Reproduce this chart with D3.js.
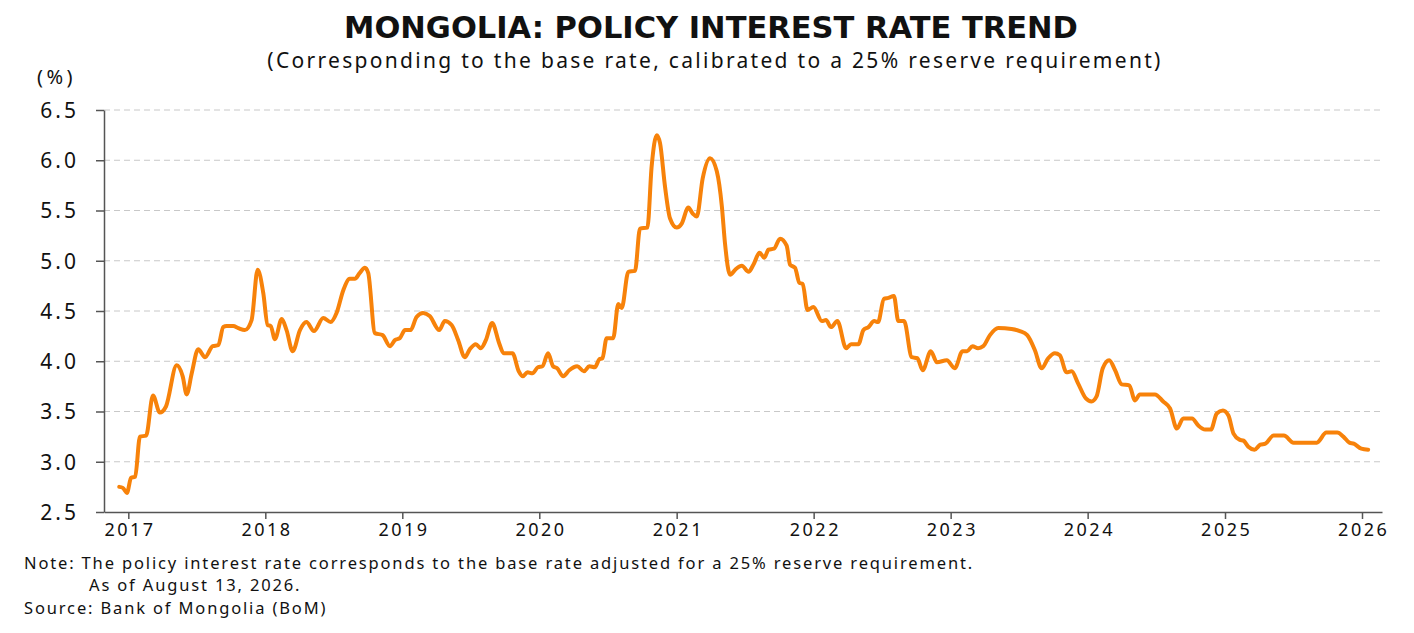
<!doctype html>
<html lang="en">
<head>
  <meta charset="UTF-8" />
  <title>Mongolia: Policy Interest Rate Trend</title>
  <script src="https://cdn.jsdelivr.net/npm/d3@7"></script>
  <style>
    body { margin: 0; background: #fff; }
    text { font-family: "Noto Sans", "Open Sans", sans-serif; fill: #111; }
    .grid line { stroke: #c8c8c8; stroke-dasharray: 6 4; stroke-width: 1; }
    .axis path, .axis line { stroke: #555; stroke-width: 1.5; }
    .rate { fill: none; stroke: #f7820a; stroke-width: 4; stroke-linejoin: round; stroke-linecap: round; }
  </style>
</head>
<body>
  <script>
    // dates as decimal years, values in %
    var years = [
      2016.934, 2016.96, 2016.99, 2017.02, 2017.05, 2017.085, 2017.13, 2017.18, 2017.23, 2017.275,
      2017.353, 2017.397, 2017.426, 2017.463, 2017.51, 2017.56, 2017.616, 2017.657, 2017.693, 2017.718,
      2017.766, 2017.803, 2017.85, 2017.9, 2017.944, 2017.985, 2018.017, 2018.04, 2018.07, 2018.12,
      2018.155, 2018.2, 2018.253, 2018.3, 2018.355, 2018.423, 2018.477, 2018.52, 2018.57, 2018.617,
      2018.654, 2018.69, 2018.727, 2018.751, 2018.8, 2018.856, 2018.91, 2018.946, 2018.982, 2019.02,
      2019.06, 2019.104, 2019.152, 2019.2, 2019.27, 2019.31, 2019.36, 2019.408, 2019.456, 2019.493,
      2019.537, 2019.573, 2019.61, 2019.656, 2019.707, 2019.74, 2019.804, 2019.85, 2019.88, 2019.914,
      2019.95, 2019.99, 2020.023, 2020.064, 2020.1, 2020.13, 2020.174, 2020.218, 2020.276, 2020.325,
      2020.364, 2020.405, 2020.437, 2020.46, 2020.49, 2020.538, 2020.575, 2020.6, 2020.648, 2020.697,
      2020.733, 2020.787, 2020.818, 2020.855, 2020.879, 2020.915, 2020.952, 2021.0, 2021.037, 2021.085,
      2021.117, 2021.147, 2021.19, 2021.244, 2021.293, 2021.33, 2021.353, 2021.39, 2021.434, 2021.476,
      2021.525, 2021.56, 2021.605, 2021.64, 2021.67, 2021.71, 2021.755, 2021.803, 2021.828, 2021.864,
      2021.896, 2021.92, 2021.955, 2021.998, 2022.06, 2022.09, 2022.127, 2022.173, 2022.237, 2022.273,
      2022.327, 2022.363, 2022.4, 2022.442, 2022.47, 2022.513, 2022.545, 2022.586, 2022.618, 2022.66,
      2022.716, 2022.757, 2022.796, 2022.855, 2022.9, 2022.972, 2023.03, 2023.087, 2023.12, 2023.16,
      2023.2, 2023.238, 2023.287, 2023.347, 2023.445, 2023.505, 2023.559, 2023.615, 2023.664, 2023.712,
      2023.761, 2023.797, 2023.846, 2023.883, 2023.93, 2023.987, 2024.028, 2024.065, 2024.11, 2024.157,
      2024.2, 2024.248, 2024.303, 2024.345, 2024.38, 2024.49, 2024.55, 2024.6, 2024.65, 2024.696,
      2024.76, 2024.806, 2024.855, 2024.897, 2024.94, 2024.985, 2025.025, 2025.062, 2025.106, 2025.135,
      2025.17, 2025.215, 2025.258, 2025.295, 2025.354, 2025.43, 2025.5, 2025.67, 2025.74, 2025.82,
      2025.864, 2025.908, 2025.94, 2025.995, 2026.045
    ];
    var rates = [
      2.75, 2.74, 2.69, 2.84, 2.85, 3.25, 3.26, 3.66, 3.49, 3.55,
      3.96, 3.85, 3.67, 3.88, 4.12, 4.04, 4.15, 4.16, 4.34, 4.35,
      4.35, 4.33, 4.31, 4.41, 4.91, 4.68, 4.36, 4.35, 4.22, 4.42,
      4.31, 4.10, 4.31, 4.39, 4.30, 4.43, 4.39, 4.48, 4.71, 4.82,
      4.82, 4.88, 4.93, 4.88, 4.28, 4.26, 4.15, 4.21, 4.23, 4.31,
      4.31, 4.44, 4.48, 4.45, 4.31, 4.40, 4.36, 4.21, 4.04, 4.12,
      4.17, 4.13, 4.21, 4.38, 4.18, 4.08, 4.08, 3.90, 3.85, 3.89,
      3.88, 3.94, 3.95, 4.08, 3.95, 3.93, 3.85, 3.91, 3.95, 3.90,
      3.95, 3.94, 4.02, 4.03, 4.23, 4.23, 4.57, 4.53, 4.89, 4.90,
      5.32, 5.33, 5.94, 6.25, 6.17, 5.74, 5.42, 5.33, 5.37, 5.53,
      5.47, 5.44, 5.82, 6.02, 5.89, 5.54, 5.17, 4.86, 4.92, 4.95,
      4.89, 4.96, 5.08, 5.03, 5.11, 5.12, 5.22, 5.15, 4.96, 4.93,
      4.78, 4.77, 4.51, 4.54, 4.40, 4.41, 4.34, 4.40, 4.13, 4.17,
      4.17, 4.31, 4.34, 4.40, 4.39, 4.62, 4.63, 4.65, 4.40, 4.40,
      4.04, 4.03, 3.91, 4.10, 3.99, 4.01, 3.93, 4.10, 4.10, 4.15,
      4.13, 4.15, 4.26, 4.33, 4.32, 4.30, 4.26, 4.11, 3.93, 4.03,
      4.08, 4.06, 3.89, 3.90, 3.78, 3.63, 3.60, 3.65, 3.93, 4.01,
      3.91, 3.77, 3.76, 3.61, 3.67, 3.67, 3.60, 3.53, 3.33, 3.43,
      3.43, 3.36, 3.32, 3.32, 3.48, 3.51, 3.46, 3.28, 3.22, 3.21,
      3.15, 3.12, 3.17, 3.18, 3.26, 3.26, 3.19, 3.19, 3.29, 3.29,
      3.25, 3.19, 3.18, 3.13, 3.12
    ];
    var yTicks = [2.5, 3.0, 3.5, 4.0, 4.5, 5.0, 5.5, 6.0, 6.5];

    var title = "MONGOLIA: POLICY INTEREST RATE TREND";
    var subtitle = "(Corresponding to the base rate, calibrated to a 25% reserve requirement)";
    var notes = [
      "Note: The policy interest rate corresponds to the base rate adjusted for a 25% reserve requirement.",
      "As of August 13, 2026.",
      "Source: Bank of Mongolia (BoM)"
    ];

    function yearToDate(y) {
      var yr = Math.floor(y);
      var start = new Date(yr, 0, 1), end = new Date(yr + 1, 0, 1);
      return new Date(+start + (y - yr) * (end - start));
    }

    var data = years.map(function (y, i) { return { date: yearToDate(y), value: rates[i] }; });

    var width = 1414, height = 633;
    var m = { left: 104, right: 1382, top: 110, bottom: 512 };

    var svg = d3.select("body").append("svg")
      .attr("width", width).attr("height", height);

    var x = d3.scaleTime()
      .domain([yearToDate(2016.823), yearToDate(2026.146)])
      .range([m.left, m.right]);
    var y = d3.scaleLinear().domain([2.5, 6.5]).range([m.bottom, m.top]);

    // grid
    svg.append("g").attr("class", "grid").selectAll("line")
      .data(yTicks.slice(1)).enter().append("line")
      .attr("x1", m.left).attr("x2", m.right)
      .attr("y1", function (d) { return y(d); })
      .attr("y2", function (d) { return y(d); });

    // y axis
    var yAxis = svg.append("g").attr("class", "axis")
      .attr("transform", "translate(" + m.left + ",0)")
      .call(d3.axisLeft(y).tickValues(yTicks).tickFormat(d3.format(".1f")).tickSize(8).tickSizeOuter(0));
    yAxis.selectAll("text").attr("x", -25).attr("dy", "0.35em")
      .style("font-size", "21px").style("letter-spacing", "3px").attr("fill", "#111");

    // x axis
    var xAxis = svg.append("g").attr("class", "axis")
      .attr("transform", "translate(0," + m.bottom + ")")
      .call(d3.axisBottom(x).ticks(d3.timeYear.every(1)).tickFormat(d3.timeFormat("%Y")).tickSize(7).tickSizeOuter(0));
    xAxis.selectAll("text").attr("y", 11).attr("dx", "1.2px")
      .style("font-size", "18px").style("letter-spacing", "2.5px").attr("fill", "#111");

    // line
    var line = d3.line()
      .x(function (d) { return x(d.date); })
      .y(function (d) { return y(d.value); })
      .curve(d3.curveMonotoneX);
    svg.append("path").datum(data).attr("class", "rate").attr("d", line);

    // texts
    svg.append("text").attr("x", 711).attr("y", 38).attr("text-anchor", "middle")
      .style("font-family", "'DejaVu Sans', sans-serif")
      .style("font-size", "30.5px").style("font-weight", "bold").text(title);
    svg.append("text").attr("x", 715).attr("y", 68).attr("text-anchor", "middle")
      .style("font-size", "21px").style("letter-spacing", "2.3px").text(subtitle);
    svg.append("text").attr("x", 37).attr("y", 84)
      .style("font-size", "20px").style("letter-spacing", "3.5px").text("(%)");

    var noteStyle = { size: "16.5px", spacing: "1.85px" };
    [[24, 569, 0], [89, 591, 1], [24, 614, 2]].forEach(function (n) {
      svg.append("text").attr("x", n[0]).attr("y", n[1])
        .style("font-size", noteStyle.size).style("letter-spacing", noteStyle.spacing)
        .text(notes[n[2]]);
    });
  </script>
</body>
</html>
